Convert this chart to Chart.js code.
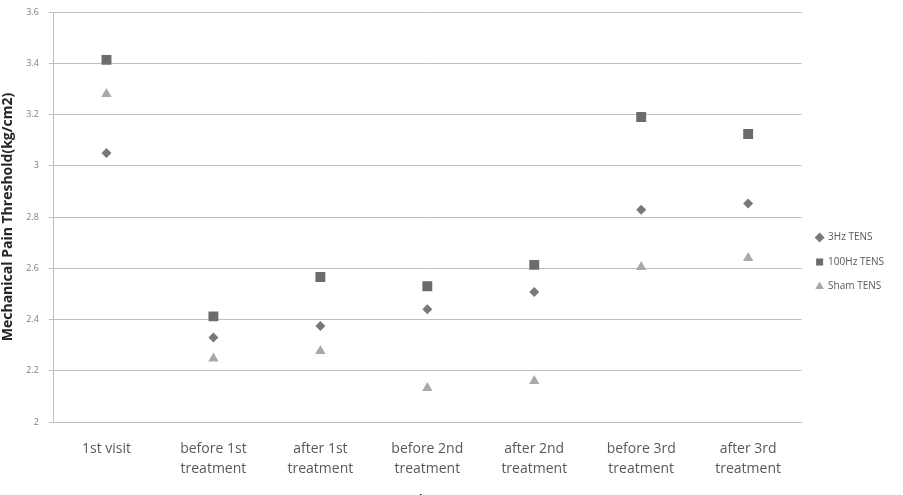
<!DOCTYPE html>
<html>
<head>
<meta charset="utf-8">
<script src="https://cdn.jsdelivr.net/npm/chart.js@4/dist/chart.umd.min.js"></script>
<style>
  html, body { margin: 0; padding: 0; background: #fff; overflow: hidden; }
  #wrap { width: 903px; height: 512px; position: relative; }
</style>
</head>
<body>
<div id="wrap"><canvas id="chart"></canvas></div>
<script>
const categories = [
  "1st visit",
  ["before 1st", "treatment"],
  ["after 1st", "treatment"],
  ["before 2nd", "treatment"],
  ["after 2nd", "treatment"],
  ["before 3rd", "treatment"],
  ["after 3rd", "treatment"],
];
const tens3Hz = [3.05, 2.33, 2.375, 2.44, 2.507, 2.828, 2.853];
const tens100Hz = [3.413, 2.412, 2.566, 2.53, 2.613, 3.19, 3.124];
const shamTens = [3.28, 2.248, 2.277, 2.133, 2.16, 2.605, 2.64];
const yTicks = [2, 2.2, 2.4, 2.6, 2.8, 3, 3.2, 3.4, 3.6];

const font = "'Open Sans', 'Liberation Sans', sans-serif";

new Chart(document.getElementById("chart"), {
  type: "line",
  data: {
    labels: categories,
    datasets: [
      {
        label: "3Hz TENS",
        data: tens3Hz,
        showLine: false,
        pointStyle: "rectRot",
        pointRadius: 5,
        pointBackgroundColor: "#787878",
        pointBorderColor: "#787878",
        pointBorderWidth: 0,
        backgroundColor: "#787878",
        borderColor: "#787878",
      },
      {
        label: "100Hz TENS",
        data: tens100Hz,
        showLine: false,
        pointStyle: "rect",
        pointRadius: 7,
        pointBackgroundColor: "#6c6c6c",
        pointBorderColor: "#6c6c6c",
        pointBorderWidth: 0,
        backgroundColor: "#6c6c6c",
        borderColor: "#6c6c6c",
      },
      {
        label: "Sham TENS",
        data: shamTens,
        showLine: false,
        pointStyle: "triangle",
        pointRadius: 6,
        pointBackgroundColor: "#a9a9a9",
        pointBorderColor: "#a9a9a9",
        pointBorderWidth: 0,
        backgroundColor: "#a9a9a9",
        borderColor: "#a9a9a9",
      },
    ],
  },
  options: {
    responsive: true,
    maintainAspectRatio: false,
    animation: false,
    layout: { padding: { top: 12, right: 9, left: 0, bottom: 0 } },
    plugins: {
      tooltip: { enabled: false },
      legend: {
        position: "right",
        labels: {
          usePointStyle: true,
          boxWidth: 7,
          boxHeight: 7,
          padding: 14.5,
          color: "#595959",
          font: { family: font, size: 10 },
        },
      },
    },
    scales: {
      x: {
        offset: true,
        grid: { display: false },
        border: { display: true, color: "#bfbfbf" },
        ticks: {
          color: "#595959",
          padding: 9,
          maxRotation: 0,
          autoSkip: false,
          font: { family: font, size: 14, lineHeight: 1.43 },
        },
        title: {
          display: true,
          text: "Time",
          color: "#262626",
          padding: { top: 0, bottom: 4 },
          font: { family: font, size: 13, weight: "bold" },
        },
        afterFit: (scale) => { scale.height = 90; },
      },
      y: {
        min: 2,
        max: 3.6,
        afterBuildTicks: (scale) => { scale.ticks = yTicks.map((v) => ({ value: v })); },
        grid: { color: "#bfbfbf", tickLength: 4 },
        border: { display: true, color: "#bfbfbf" },
        ticks: {
          color: "#7f7f7f",
          padding: 10,
          font: { family: font, size: 9 },
          callback: (v) => String(Number(v.toFixed(1))),
        },
        title: {
          display: true,
          text: "Mechanical Pain Threshold(kg/cm2)",
          color: "#262626",
          padding: 0,
          font: { family: font, size: 14, weight: "bold" },
        },
        afterFit: (scale) => {
          scale.width = 53;
          scale.paddingTop = 0;
          scale.paddingBottom = 0;
        },
      },
    },
  },
});
</script>
</body>
</html>
